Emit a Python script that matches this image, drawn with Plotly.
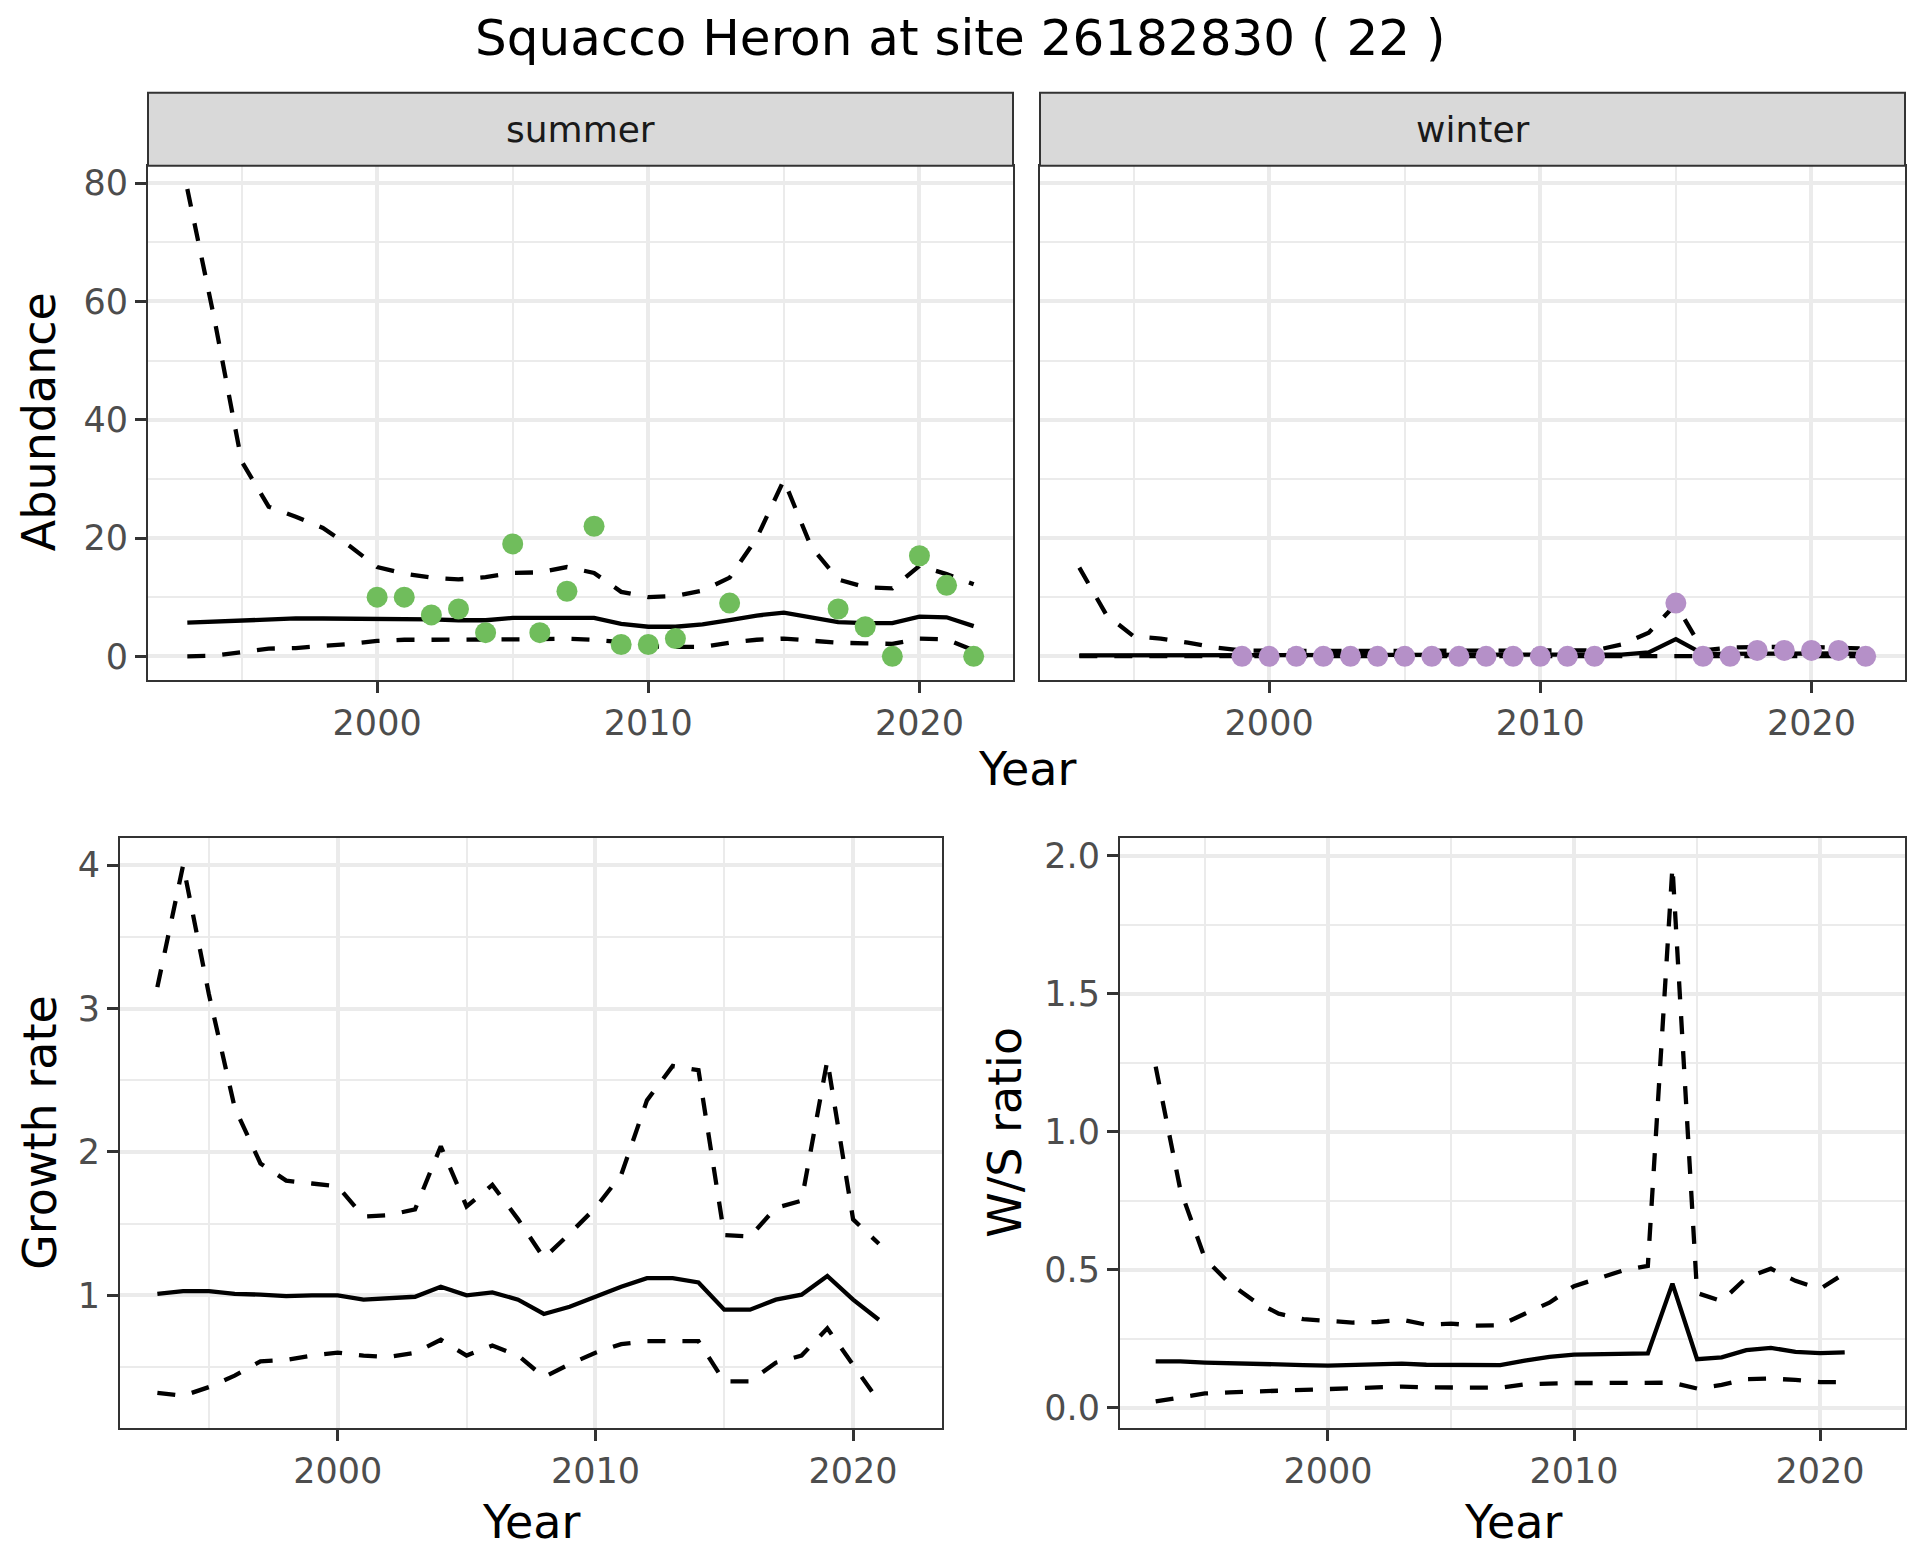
import plotly.graph_objects as go

W, H = 1920, 1560

# ---------------- data ----------------
years = list(range(1993, 2023))           # 1993..2022
years_g = list(range(1993, 2022))         # 1993..2021

summer_mean = [5.7, 5.9, 6.0, 6.25, 6.4, 6.4, 6.4, 6.4, 6.4, 6.25, 6.1, 6.1, 6.5, 6.5, 6.6,
               6.5, 5.5, 5.0, 5.0, 5.4, 6.1, 6.9, 7.4, 6.6, 5.8, 5.6, 5.6, 6.7, 6.6, 5.1]
summer_upper = [79, 57, 33, 25.3, 23.6, 21.7, 18.6, 15.1, 14.0, 13.3, 13.0, 13.4, 14.1, 14.2, 15.1,
                14.1, 10.9, 10.0, 10.2, 11.1, 13.3, 20.0, 29.8, 18.6, 13.0, 11.7, 11.5, 15.3, 13.9, 12.2]
summer_lower = [0.0, 0.1, 0.7, 1.3, 1.4, 1.7, 2.1, 2.6, 2.8, 2.8, 2.8, 2.8, 2.8, 2.9, 3.0,
                2.8, 2.4, 1.7, 1.6, 1.6, 2.3, 2.8, 3.0, 2.7, 2.3, 2.2, 2.1, 3.0, 2.85, 1.0]
summer_obs_years = [2000, 2001, 2002, 2003, 2004, 2005, 2006, 2007, 2008, 2009, 2010, 2011,
                    2013, 2017, 2018, 2019, 2020, 2021, 2022]
summer_obs = [10, 10, 7, 8, 4, 19, 4, 11, 22, 2, 2, 3, 9, 8, 5, 0, 17, 12, 0]

winter_mean = [0.15, 0.15, 0.15, 0.15, 0.15, 0.15, 0.15, 0.15, 0.15, 0.15, 0.15, 0.15, 0.15, 0.15, 0.15,
               0.15, 0.15, 0.15, 0.15, 0.15, 0.3, 0.65, 2.9, 0.4, 0.45, 0.5, 0.5, 0.5, 0.5, 0.4]
winter_upper = [15, 7, 3.4, 3.0, 2.3, 1.5, 1.0, 0.9, 0.9, 0.9, 0.9, 0.9, 0.9, 0.9, 0.9,
                0.9, 0.9, 0.9, 0.9, 1.0, 2.0, 4.0, 8.8, 1.0, 1.5, 1.6, 1.6, 1.6, 1.5, 1.3]
winter_lower = [0.02, 0.02, 0.02, 0.02, 0.02, 0.02, 0.02, 0.02, 0.02, 0.02, 0.02, 0.02, 0.02, 0.02, 0.02,
                0.02, 0.02, 0.02, 0.02, 0.02, 0.03, 0.05, 0.2, 0.05, 0.05, 0.05, 0.05, 0.05, 0.05, 0.05]
winter_obs_years = [1999, 2000, 2001, 2002, 2003, 2004, 2005, 2006, 2007, 2008, 2009, 2010, 2011, 2012,
                    2015, 2016, 2017, 2018, 2019, 2020, 2021, 2022]
winter_obs = [0, 0, 0, 0, 0, 0, 0, 0, 0, 0, 0, 0, 0, 0, 9, 0, 0, 1, 1, 1, 1, 0]

growth_mean = [1.01, 1.03, 1.03, 1.01, 1.005, 0.995, 1.0, 1.0, 0.97, 0.98, 0.99, 1.06, 1.0, 1.02, 0.97,
               0.87, 0.92, 0.99, 1.06, 1.12, 1.12, 1.09, 0.9, 0.9, 0.97, 1.005, 1.135, 0.97, 0.83]
growth_upper = [3.15, 4.0, 3.1, 2.31, 1.92, 1.8, 1.78, 1.76, 1.55, 1.56, 1.6, 2.04, 1.62, 1.77, 1.53,
                1.26, 1.43, 1.61, 1.84, 2.36, 2.6, 2.57, 1.42, 1.41, 1.61, 1.66, 2.64, 1.53, 1.36]
growth_lower = [0.32, 0.30, 0.36, 0.44, 0.54, 0.55, 0.58, 0.6, 0.58, 0.57, 0.6, 0.69, 0.58, 0.65, 0.58,
                0.43, 0.52, 0.6, 0.66, 0.68, 0.68, 0.68, 0.4, 0.4, 0.53, 0.58, 0.77, 0.52, 0.26]

ratio_mean = [0.167, 0.167, 0.163, 0.16, 0.159, 0.157, 0.154, 0.152, 0.155, 0.158, 0.159, 0.155, 0.155, 0.152, 0.154,
              0.17, 0.184, 0.192, 0.194, 0.196, 0.196, 0.449, 0.175, 0.182, 0.208, 0.216, 0.202, 0.197, 0.2]
ratio_upper = [1.235, 0.79, 0.54, 0.45, 0.386, 0.34, 0.32, 0.314, 0.308, 0.31, 0.318, 0.30, 0.304, 0.297, 0.298,
               0.34, 0.38, 0.44, 0.467, 0.497, 0.513, 1.96, 0.415, 0.386, 0.47, 0.503, 0.459, 0.43, 0.486]
ratio_lower = [0.022, 0.035, 0.051, 0.055, 0.058, 0.061, 0.065, 0.07, 0.072, 0.074, 0.076, 0.073, 0.072, 0.07, 0.072,
               0.084, 0.088, 0.089, 0.089, 0.089, 0.088, 0.09, 0.069, 0.082, 0.103, 0.105, 0.1, 0.092, 0.092]

title_text = "Squacco Heron at site 26182830 ( 22 )"
strip_labels = ["summer", "winter"]
year_ticks = [2000, 2010, 2020]
year_minor = [1995, 2005, 2015]

# ---------------- styling ----------------
FONT = "DejaVu Sans"
GREEN = "#70BD5C"
PURPLE = "#B590C8"
GRID = "#EBEBEB"
BORDER = "#333333"
LW = 4.3
DASH = "18px,17px"


def xd(a, b):
    return [a / W, b / W]


def yd(top, bottom):
    return [1 - bottom / H, 1 - top / H]


def px(x):
    return x / W


def py(y):
    return 1 - y / H


fig = go.Figure()


def add_lines(xs, mean, upper, lower, xa, ya):
    for vals, dash in ((upper, DASH), (mean, "solid"), (lower, DASH)):
        fig.add_trace(go.Scatter(x=xs, y=vals, mode="lines", xaxis=xa, yaxis=ya,
                                 line=dict(color="black", width=LW, dash=dash),
                                 hoverinfo="skip", showlegend=False))


add_lines(years, summer_mean, summer_upper, summer_lower, "x", "y")
fig.add_trace(go.Scatter(x=summer_obs_years, y=summer_obs, mode="markers", xaxis="x", yaxis="y",
                         marker=dict(color=GREEN, size=21, line=dict(width=0)), showlegend=False))
add_lines(years, winter_mean, winter_upper, winter_lower, "x2", "y2")
fig.add_trace(go.Scatter(x=winter_obs_years, y=winter_obs, mode="markers", xaxis="x2", yaxis="y2",
                         marker=dict(color=PURPLE, size=21, line=dict(width=0)), showlegend=False))
add_lines(years_g, growth_mean, growth_upper, growth_lower, "x3", "y3")
add_lines(years_g, ratio_mean, ratio_upper, ratio_lower, "x4", "y4")

tickfont = dict(family=FONT, size=35, color="#4D4D4D")
common = dict(showline=True, mirror=True, linecolor=BORDER, linewidth=2,
              ticks="outside", ticklen=11, tickwidth=2.5, tickcolor=BORDER,
              showgrid=True, gridcolor=GRID, gridwidth=3.5, zeroline=False,
              tickfont=tickfont, fixedrange=True)

xr = [1991.55, 2023.45]


def xaxis(domain, anchor):
    return dict(common, domain=domain, anchor=anchor, range=xr, tickvals=year_ticks,
                minor=dict(tickvals=year_minor, showgrid=True, gridcolor=GRID, gridwidth=1.8, ticks=""))


def yaxis(domain, anchor, rng, tv, tt, mv, labels=True):
    d = dict(common, domain=domain, anchor=anchor, range=rng, tickvals=tv, ticktext=tt,
             minor=dict(tickvals=mv, showgrid=True, gridcolor=GRID, gridwidth=1.8, ticks=""))
    if not labels:
        d.update(showticklabels=False, ticks="")
    return d


ab_t = [0, 20, 40, 60, 80]
ab_m = [10, 30, 50, 70]
fig.update_layout(
    xaxis=xaxis(xd(148, 1013), "y"),
    yaxis=yaxis(yd(163, 678), "x", [-3.95, 82.95], ab_t, [str(v) for v in ab_t], ab_m),
    xaxis2=xaxis(xd(1040, 1905), "y2"),
    yaxis2=yaxis(yd(163, 678), "x2", [-3.95, 82.95], ab_t, [str(v) for v in ab_t], ab_m, labels=False),
    xaxis3=xaxis(xd(120, 942), "y3"),
    yaxis3=yaxis(yd(837, 1428), "x3", [0.073, 4.187], [1, 2, 3, 4], ["1", "2", "3", "4"], [0.5, 1.5, 2.5, 3.5]),
    xaxis4=xaxis(xd(1120, 1905), "y4"),
    yaxis4=yaxis(yd(837, 1428), "x4", [-0.075, 2.062], [0, 0.5, 1, 1.5, 2],
                 ["0.0", "0.5", "1.0", "1.5", "2.0"], [0.25, 0.75, 1.25, 1.75]),
)

# strips
shapes = []
annotations = []
for (a, b), lab in zip([(148, 1013), (1040, 1905)], strip_labels):
    shapes.append(dict(type="rect", xref="paper", yref="paper", x0=px(a), x1=px(b), y0=py(163), y1=py(90),
                       fillcolor="#D9D9D9", line=dict(color=BORDER, width=2), layer="above"))
    annotations.append(dict(text=lab, x=px((a + b) / 2), y=py(126.5), xref="paper", yref="paper",
                            showarrow=False, xanchor="center", yanchor="middle",
                            font=dict(family=FONT, size=36, color="#1A1A1A")))

title_font = dict(family=FONT, size=46, color="black")
annotations += [
    dict(text=title_text, x=px(960), y=py(35), xref="paper", yref="paper", showarrow=False,
         xanchor="center", yanchor="middle", font=dict(family=FONT, size=50, color="black")),
    dict(text="Year", x=px(1026.5), y=py(767), xref="paper", yref="paper", showarrow=False,
         xanchor="center", yanchor="middle", font=title_font),
    dict(text="Year", x=px(531), y=py(1522), xref="paper", yref="paper", showarrow=False,
         xanchor="center", yanchor="middle", font=title_font),
    dict(text="Year", x=px(1512.5), y=py(1522), xref="paper", yref="paper", showarrow=False,
         xanchor="center", yanchor="middle", font=title_font),
    dict(text="Abundance", x=px(39), y=py(420), xref="paper", yref="paper", showarrow=False,
         xanchor="center", yanchor="middle", textangle=-90, font=title_font),
    dict(text="Growth rate", x=px(40), y=py(1132), xref="paper", yref="paper", showarrow=False,
         xanchor="center", yanchor="middle", textangle=-90, font=title_font),
    dict(text="W/S ratio", x=px(1005), y=py(1132), xref="paper", yref="paper", showarrow=False,
         xanchor="center", yanchor="middle", textangle=-90, font=title_font),
]

fig.update_layout(width=W, height=H, margin=dict(l=0, r=0, t=0, b=0),
                  paper_bgcolor="white", plot_bgcolor="white", showlegend=False,
                  hovermode=False, shapes=shapes, annotations=annotations,
                  font=dict(family=FONT))

fig.write_html("out.html", config={"displayModeBar": False},
               post_script="document.body.style.margin='0px';document.body.style.overflow='hidden';")
